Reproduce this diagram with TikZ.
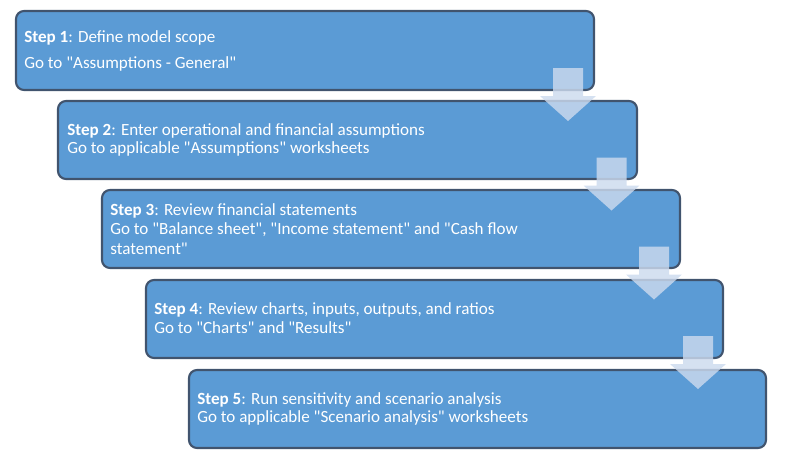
\documentclass[tikz,border=0pt]{standalone}
\usepackage{fontspec}
\setmainfont{Carlito}[Ligatures=TeXOff]
\begin{document}
\begin{tikzpicture}[x=0.75pt,y=-0.75pt,
  stepbox/.style={draw=boxline,line width=1.6pt,fill=boxfill,rounded corners=6pt},
  steptext/.style={anchor=base west,inner sep=0pt,text=white,font=\fontsize{12.8pt}{15pt}\selectfont},
  blockarrow/.style={fill=arrowfill,fill opacity=0.82,draw=none}]
\definecolor{boxfill}{HTML}{5B9BD5}
\definecolor{boxline}{HTML}{41546E}
\definecolor{arrowfill}{HTML}{CCDAEE}
\useasboundingbox (0,0) rectangle (785,465);
% boxes
\draw[stepbox] (16,11) rectangle (594,90);
\node[inner sep=0pt] (b1) at (305,50.5) {};
\draw[stepbox] (58,101) rectangle (637,179);
\node[inner sep=0pt] (b2) at (347.5,140) {};
\draw[stepbox] (102,190) rectangle (680,268);
\node[inner sep=0pt] (b3) at (391,229) {};
\draw[stepbox] (146,280) rectangle (723,358);
\node[inner sep=0pt] (b4) at (434.5,319) {};
\draw[stepbox] (189,370) rectangle (766,448);
\node[inner sep=0pt] (b5) at (477.5,409) {};
% texts
\node[steptext] (t1a) at (24,42) {\textbf{Step 1}: Define model scope};
\node[steptext] (t1b) at (24,68) {Go to "Assumptions - General"};
\node[steptext] (t2a) at (67,135) {\textbf{Step 2}: Enter operational and financial assumptions};
\node[steptext] (t2b) at (67,153.5) {Go to applicable "Assumptions" worksheets};
\node[steptext] (t3a) at (110,215) {\textbf{Step 3}: Review financial statements};
\node[steptext] (t3b) at (110,234) {Go to "Balance sheet", "Income statement" and "Cash flow};
\node[steptext] (t3c) at (110,254) {statement"};
\node[steptext] (t4a) at (154,314.5) {\textbf{Step 4}: Review charts, inputs, outputs, and ratios};
\node[steptext] (t4b) at (154,333) {Go to "Charts" and "Results"};
\node[steptext] (t5a) at (197,404) {\textbf{Step 5}: Run sensitivity and scenario analysis};
\node[steptext] (t5b) at (197,422.7) {Go to applicable "Scenario analysis" worksheets};
% block arrows
\foreach \i/\cx/\ty in {1/568/68,2/611.5/157.5,3/654/246.5,4/698/336}{
  \coordinate (a\i) at (\cx,\ty);
  \fill[blockarrow] ([xshift=-15*0.75pt]a\i) -- ++(30,0) -- ++(0,28) -- ++(13,0)
     -- ([yshift=-53*0.75pt]a\i) -- ([xshift=-28*0.75pt,yshift=-28*0.75pt]a\i) -- ++(13,0) -- cycle;
}
\end{tikzpicture}
\end{document}
